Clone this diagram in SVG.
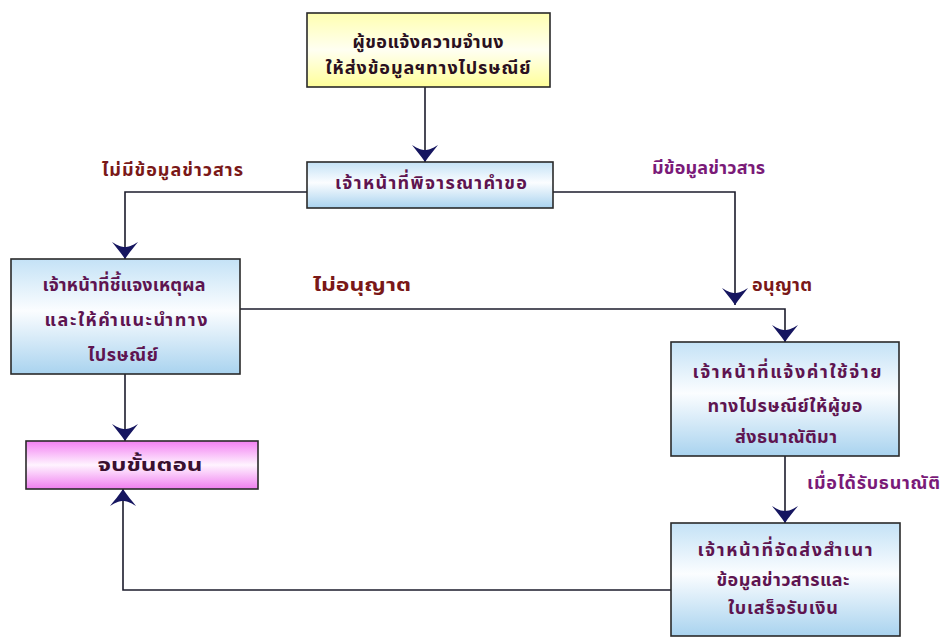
<svg xmlns="http://www.w3.org/2000/svg" width="945" height="639" viewBox="0 0 945 639">
<defs>
<linearGradient id="gBlue" x1="0" y1="0" x2="0" y2="1">
<stop offset="0" stop-color="#c4e2f6"/>
<stop offset="0.45" stop-color="#fbfdff"/>
<stop offset="1" stop-color="#a9d3ef"/>
</linearGradient>
<linearGradient id="gYellow" x1="0" y1="0" x2="0" y2="1">
<stop offset="0" stop-color="#ffffb0"/>
<stop offset="0.5" stop-color="#fffff2"/>
<stop offset="1" stop-color="#ffff99"/>
</linearGradient>
<linearGradient id="gPink" x1="0" y1="0" x2="0" y2="1">
<stop offset="0" stop-color="#f27ff2"/>
<stop offset="0.5" stop-color="#fff4ff"/>
<stop offset="1" stop-color="#f07ef0"/>
</linearGradient>
<marker id="arr" viewBox="-18 -14 19 28" refX="0" refY="0" markerWidth="19" markerHeight="28" markerUnits="userSpaceOnUse" orient="auto">
<path d="M0,0 C-6,-4 -12,-9 -17,-13 C-13,-7 -12,-3 -12,0 C-12,3 -13,7 -17,13 C-12,9 -6,4 0,0 Z" fill="#161660"/>
</marker>
<style>
.box{stroke:#2a2a2a;stroke-width:1.6}
.t{font-family:"Noto Sans Thai","Noto Sans","DejaVu Sans",sans-serif;font-weight:bold;font-size:18px;text-anchor:middle;dominant-baseline:central}
.bt{fill:#5e1450}
.lbl{font-family:"Noto Sans Thai","Noto Sans","DejaVu Sans",sans-serif;font-weight:bold;font-size:18px;dominant-baseline:central}
.red{fill:#7a1818}
.pur{fill:#7a1a78}
.c{fill:none;stroke:#1c1c2c;stroke-width:1.6}
.a{marker-end:url(#arr)}
</style>
</defs>
<g id="connectors">
<path class="c a" d="M425,87 V162"/>
<path class="c a" d="M307,192 H125 V259"/>
<path class="c a" d="M553,192 H735 V305"/>
<path class="c a" d="M240,309 H785 V342"/>
<path class="c a" d="M125,374 V441"/>
<path class="c a" d="M785,456 V523"/>
<path class="c a" d="M671,590 H123 V489"/>
</g>
<g id="labels">
<text class="lbl red" x="102" y="170" textLength="141">ไม่มีข้อมูลข่าวสาร</text>
<text class="lbl pur" x="652" y="168" textLength="113">มีข้อมูลข่าวสาร</text>
<text class="lbl red" x="313" y="285" textLength="98" lengthAdjust="spacingAndGlyphs">ไม่อนุญาต</text>
<text class="lbl red" x="752" y="285" textLength="60">อนุญาต</text>
<text class="lbl pur" x="807" y="483" textLength="133">เมื่อได้รับธนาณัติ</text>
</g>
<g id="n1">
<rect class="box" x="307" y="13" width="243" height="74" fill="url(#gYellow)"/>
<text class="t" x="428" y="42" fill="#2a1020" textLength="151">ผู้ขอแจ้งความจำนง</text>
<text class="t" x="428" y="68" fill="#2a1020" textLength="205">ให้ส่งข้อมูลฯทางไปรษณีย์</text>
</g>
<g id="n2">
<rect class="box" x="307" y="162" width="246" height="46" fill="url(#gBlue)"/>
<text class="t bt" x="431" y="183" textLength="192">เจ้าหน้าที่พิจารณาคำขอ</text>
</g>
<g id="n3">
<rect class="box" x="11" y="259" width="229" height="115" fill="url(#gBlue)"/>
<text class="t bt" x="124" y="285" textLength="163">เจ้าหน้าที่ชี้แจงเหตุผล</text>
<text class="t bt" x="126" y="320" textLength="163">และให้คำแนะนำทาง</text>
<text class="t bt" x="123" y="355" textLength="70">ไปรษณีย์</text>
</g>
<g id="n4">
<rect class="box" x="671" y="342" width="228" height="114" fill="url(#gBlue)"/>
<text class="t bt" x="787" y="372" textLength="189">เจ้าหน้าที่แจ้งค่าใช้จ่าย</text>
<text class="t bt" x="785" y="406" textLength="155">ทางไปรษณีย์ให้ผู้ขอ</text>
<text class="t bt" x="786" y="437" textLength="102">ส่งธนาณัติมา</text>
</g>
<g id="n5">
<rect class="box" x="26" y="441" width="232" height="48" fill="url(#gPink)"/>
<text class="t" x="150" y="465" fill="#3a1030" textLength="105" lengthAdjust="spacingAndGlyphs">จบขั้นตอน</text>
</g>
<g id="n6">
<rect class="box" x="671" y="523" width="229" height="113" fill="url(#gBlue)"/>
<text class="t bt" x="785" y="550" textLength="175">เจ้าหน้าที่จัดส่งสำเนา</text>
<text class="t bt" x="783" y="580" textLength="133">ข้อมูลข่าวสารและ</text>
<text class="t bt" x="783" y="608" textLength="110">ใบเสร็จรับเงิน</text>
</g>
</svg>
